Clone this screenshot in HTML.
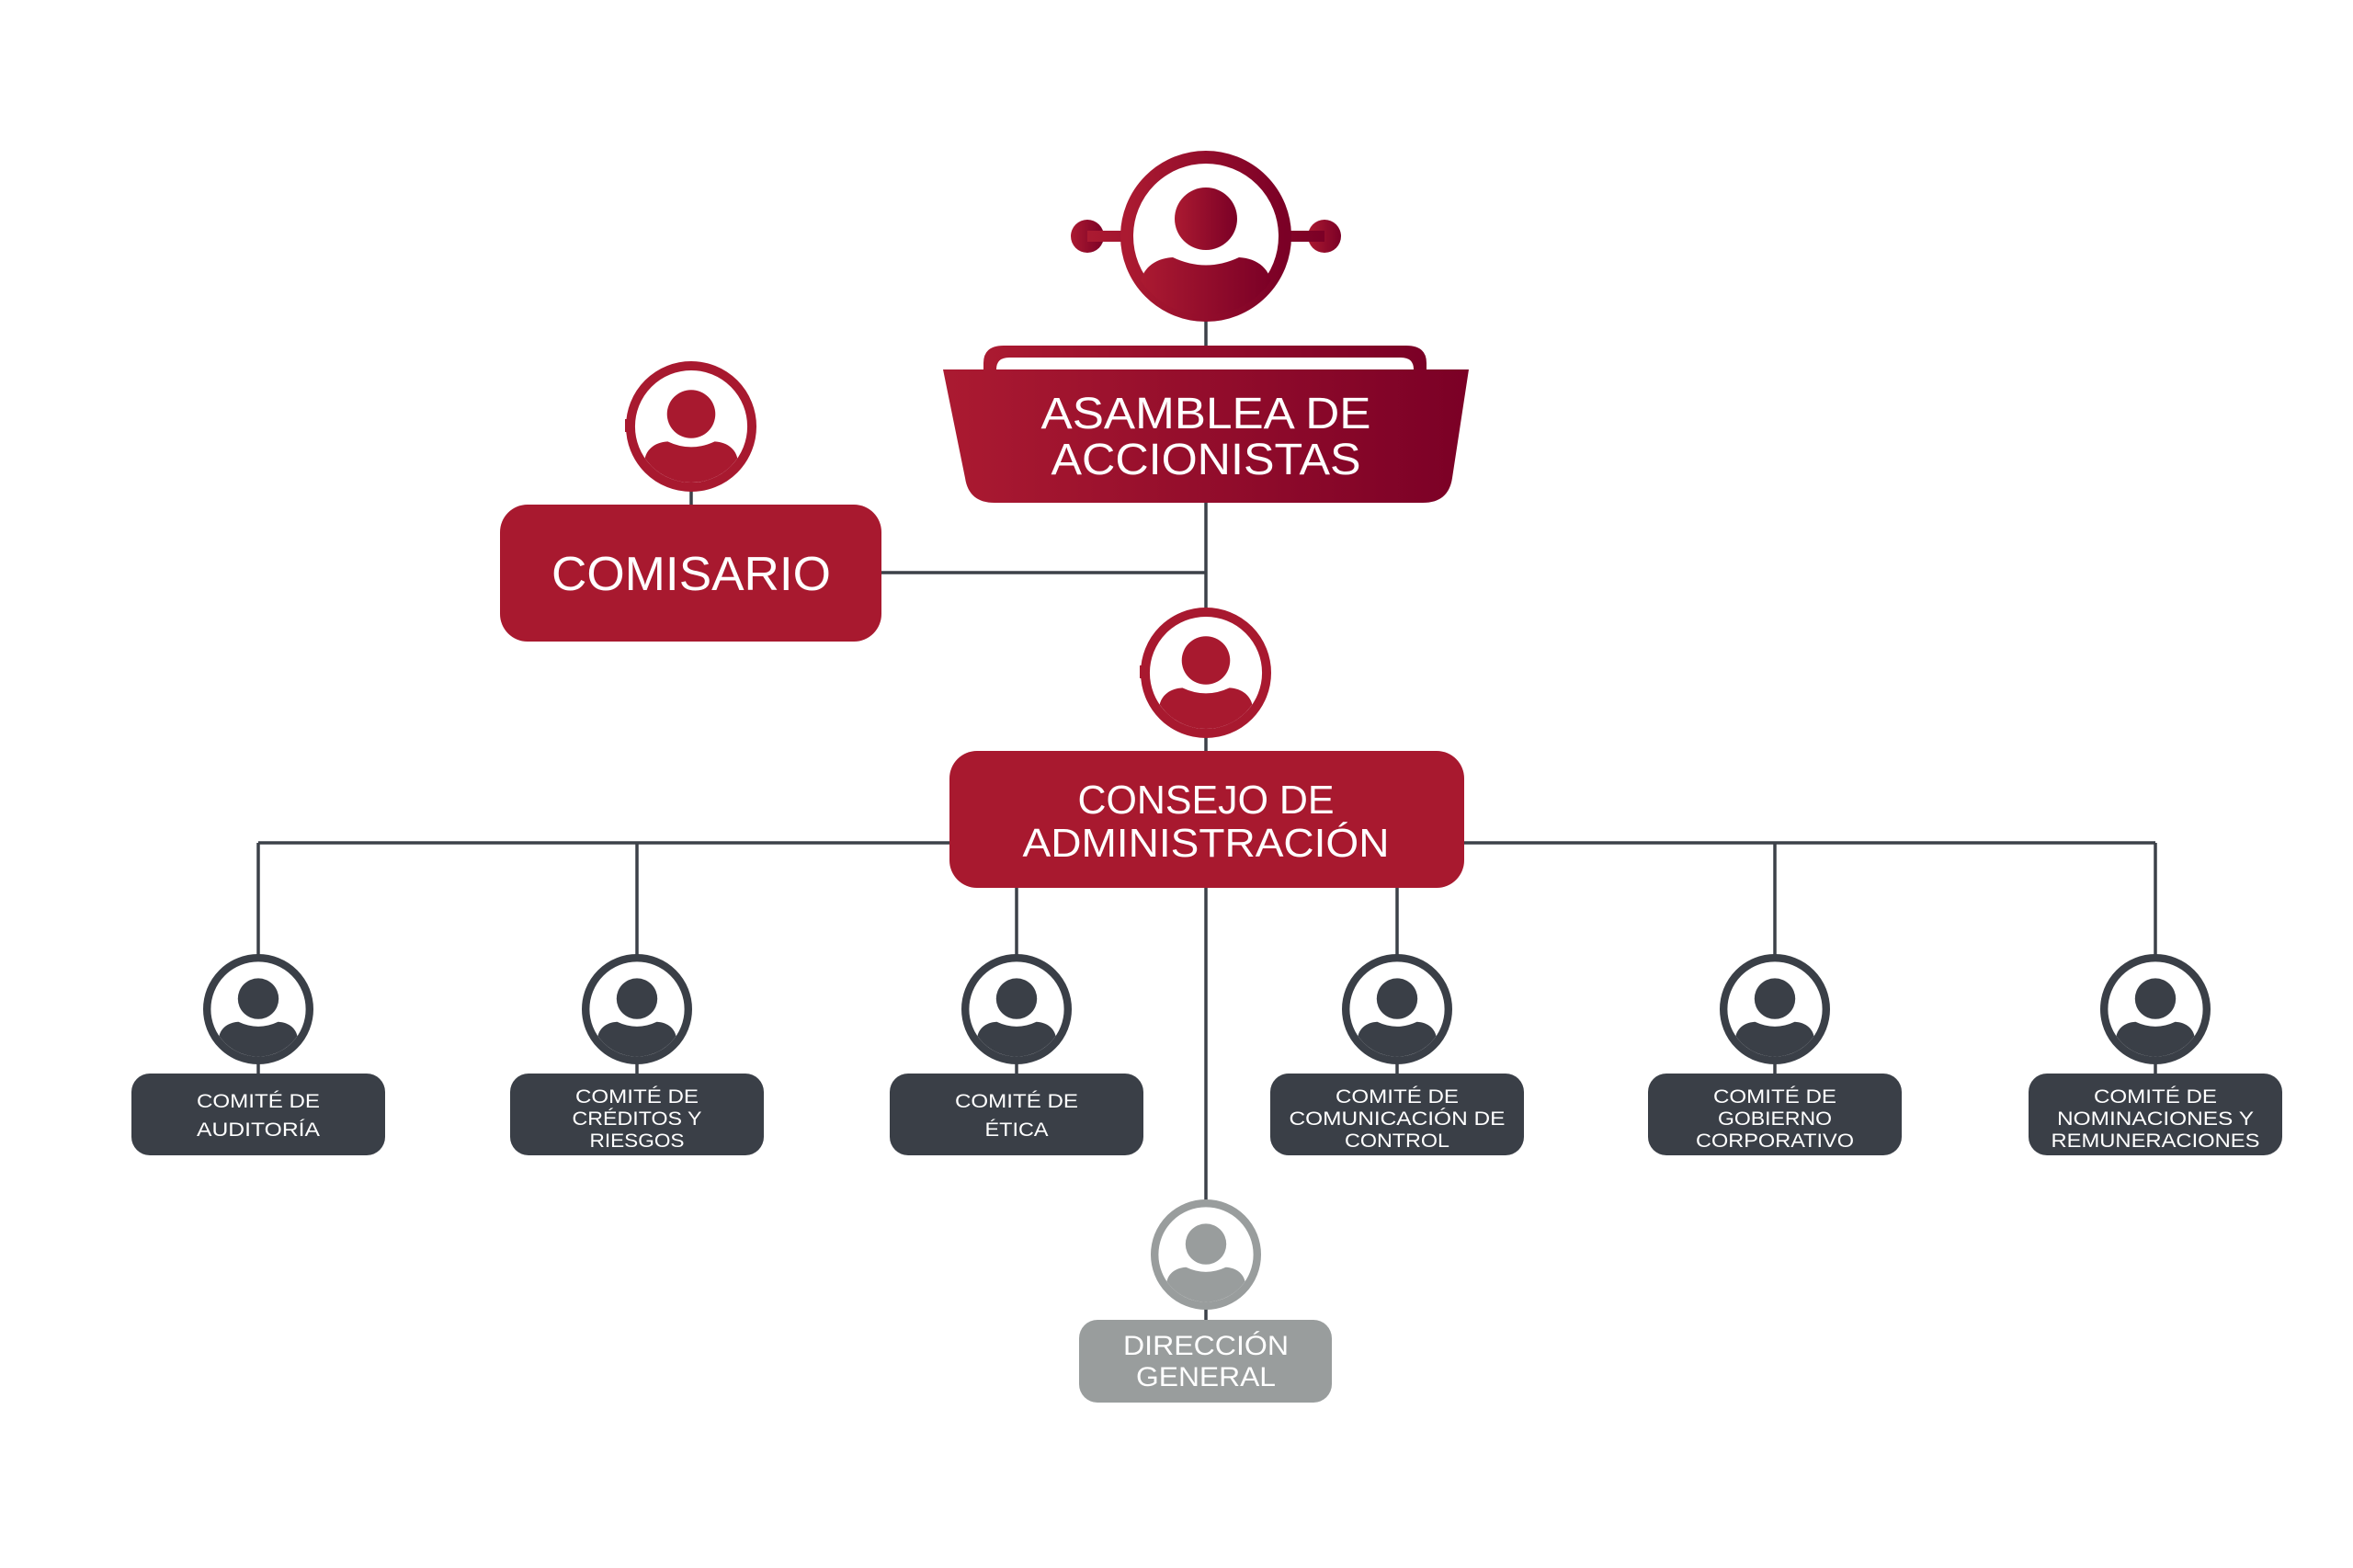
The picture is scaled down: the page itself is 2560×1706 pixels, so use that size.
<!DOCTYPE html>
<html><head><meta charset="utf-8"><style>
html,body{margin:0;padding:0;background:#fff;}
svg{display:block;}
text{font-family:"Liberation Sans",sans-serif;fill:#fff;text-anchor:middle;}
</style></head><body>
<svg width="2560" height="1706" viewBox="0 0 2560 1706" xmlns="http://www.w3.org/2000/svg">
<defs>
<linearGradient id="rg" x1="0" x2="1" y1="0" y2="0">
<stop offset="0" stop-color="#ab1a31"/><stop offset="1" stop-color="#7b0026"/>
</linearGradient>
<clipPath id="ic"><circle cx="0" cy="0" r="86"/></clipPath>
<g id="person">
<circle cx="0" cy="0" r="93" fill="#fff" stroke="currentColor" stroke-width="14"/>
<circle cx="0" cy="-19" r="37" fill="currentColor"/>
<path clip-path="url(#ic)" fill="currentColor" d="M-72,110 L-72,58 C-72,36 -56,24 -36,23 Q0,40 36,23 C56,24 72,36 72,58 L72,110 Z"/>
</g>
</defs>

<g stroke="#3c4149" stroke-width="3.5" fill="none">
<line x1="1312" y1="340" x2="1312" y2="378"/>
<line x1="1312" y1="547" x2="1312" y2="680"/>
<line x1="959" y1="623" x2="1312" y2="623"/>
<line x1="752" y1="520" x2="752" y2="549"/>
<line x1="1312" y1="790" x2="1312" y2="817"/>
<line x1="281" y1="917" x2="2345" y2="917"/>
<line x1="281" y1="917" x2="281" y2="1045"/>
<line x1="693" y1="917" x2="693" y2="1045"/>
<line x1="1106" y1="966" x2="1106" y2="1045"/>
<line x1="1520" y1="917" x2="1520" y2="1045"/>
<line x1="1931" y1="917" x2="1931" y2="1045"/>
<line x1="2345" y1="917" x2="2345" y2="1045"/>
<line x1="1312" y1="966" x2="1312" y2="1310"/>
<line x1="281" y1="1150" x2="281" y2="1168"/>
<line x1="693" y1="1150" x2="693" y2="1168"/>
<line x1="1106" y1="1150" x2="1106" y2="1168"/>
<line x1="1520" y1="1150" x2="1520" y2="1168"/>
<line x1="1931" y1="1150" x2="1931" y2="1168"/>
<line x1="2345" y1="1150" x2="2345" y2="1168"/>
<line x1="1312" y1="1420" x2="1312" y2="1436"/>
</g>

<g fill="url(#rg)">
<circle cx="1183" cy="257" r="18"/>
<circle cx="1441" cy="257" r="18"/>
<rect x="1183" y="251" width="258" height="12"/>
</g>
<g transform="translate(1312,257)">
<circle cx="0" cy="0" r="86" fill="#fff" stroke="url(#rg)" stroke-width="14"/>
<circle cx="0" cy="-19" r="34" fill="url(#rg)"/>
<path clip-path="url(#ic)" fill="url(#rg)" d="M-72,110 L-72,58 C-72,36 -56,24 -36,23 Q0,40 36,23 C56,24 72,36 72,58 L72,110 Z"/>
</g>
<path d="M1070,402 L1070,395 Q1070,376 1092,376 L1530,376 Q1552,376 1552,395 L1552,402 L1538,402 Q1538,389 1524,389 L1098,389 Q1084,389 1084,402 Z" fill="url(#rg)"/>
<path d="M1026,402 L1598,402 L1580,520 Q1576,547 1548,547 L1082,547 Q1054,547 1050,520 Z" fill="url(#rg)"/>
<text x="1312" y="466" font-size="48" textLength="359" lengthAdjust="spacingAndGlyphs">ASAMBLEA DE</text>
<text x="1312" y="516" font-size="48" textLength="337" lengthAdjust="spacingAndGlyphs">ACCIONISTAS</text>

<use href="#person" transform="translate(752,464) scale(0.71)" style="color:#a8192f"/>
<rect x="680" y="456" width="10" height="14" fill="#a8192f"/>
<rect x="544" y="549" width="415" height="149" rx="30" fill="#a8192f"/>
<text x="752" y="642" font-size="52" textLength="304" lengthAdjust="spacingAndGlyphs">COMISARIO</text>

<use href="#person" transform="translate(1312,732) scale(0.71)" style="color:#a8192f"/>
<rect x="1240" y="724" width="10" height="14" fill="#a8192f"/>
<rect x="1033" y="817" width="560" height="149" rx="30" fill="#a8192f"/>
<text x="1312" y="885" font-size="44" textLength="279" lengthAdjust="spacingAndGlyphs">CONSEJO DE</text>
<text x="1312" y="932" font-size="44" textLength="399" lengthAdjust="spacingAndGlyphs">ADMINISTRACIÓN</text>

<g style="color:#3a3f47">
<use href="#person" transform="translate(281,1098) scale(0.6)"/>
<use href="#person" transform="translate(693,1098) scale(0.6)"/>
<use href="#person" transform="translate(1106,1098) scale(0.6)"/>
<use href="#person" transform="translate(1520,1098) scale(0.6)"/>
<use href="#person" transform="translate(1931,1098) scale(0.6)"/>
<use href="#person" transform="translate(2345,1098) scale(0.6)"/>
</g>
<g fill="#3a3f47">
<rect x="143" y="1168" width="276" height="89" rx="20"/>
<rect x="555" y="1168" width="276" height="89" rx="20"/>
<rect x="968" y="1168" width="276" height="89" rx="20"/>
<rect x="1382" y="1168" width="276" height="89" rx="20"/>
<rect x="1793" y="1168" width="276" height="89" rx="20"/>
<rect x="2207" y="1168" width="276" height="89" rx="20"/>
</g>
<g font-size="21">
<text x="281" y="1205" textLength="134" lengthAdjust="spacingAndGlyphs">COMITÉ DE</text>
<text x="281" y="1236" textLength="134" lengthAdjust="spacingAndGlyphs">AUDITORÍA</text>
<text x="693" y="1200" textLength="134" lengthAdjust="spacingAndGlyphs">COMITÉ DE</text>
<text x="693" y="1224" textLength="141" lengthAdjust="spacingAndGlyphs">CRÉDITOS Y</text>
<text x="693" y="1248" textLength="103" lengthAdjust="spacingAndGlyphs">RIESGOS</text>
<text x="1106" y="1205" textLength="134" lengthAdjust="spacingAndGlyphs">COMITÉ DE</text>
<text x="1106" y="1236" textLength="69" lengthAdjust="spacingAndGlyphs">ÉTICA</text>
<text x="1520" y="1200" textLength="134" lengthAdjust="spacingAndGlyphs">COMITÉ DE</text>
<text x="1520" y="1224" textLength="235" lengthAdjust="spacingAndGlyphs">COMUNICACIÓN DE</text>
<text x="1520" y="1248" textLength="114" lengthAdjust="spacingAndGlyphs">CONTROL</text>
<text x="1931" y="1200" textLength="134" lengthAdjust="spacingAndGlyphs">COMITÉ DE</text>
<text x="1931" y="1224" textLength="124" lengthAdjust="spacingAndGlyphs">GOBIERNO</text>
<text x="1931" y="1248" textLength="172" lengthAdjust="spacingAndGlyphs">CORPORATIVO</text>
<text x="2345" y="1200" textLength="134" lengthAdjust="spacingAndGlyphs">COMITÉ DE</text>
<text x="2345" y="1224" textLength="214" lengthAdjust="spacingAndGlyphs">NOMINACIONES Y</text>
<text x="2345" y="1248" textLength="227" lengthAdjust="spacingAndGlyphs">REMUNERACIONES</text>
</g>

<use href="#person" transform="translate(1312,1365) scale(0.6)" style="color:#999d9d"/>
<rect x="1174" y="1436" width="275" height="90" rx="20" fill="#999d9d"/>
<text x="1312" y="1474" font-size="30" textLength="180" lengthAdjust="spacingAndGlyphs">DIRECCIÓN</text>
<text x="1312" y="1508" font-size="30" textLength="152" lengthAdjust="spacingAndGlyphs">GENERAL</text>
</svg>
</body></html>
